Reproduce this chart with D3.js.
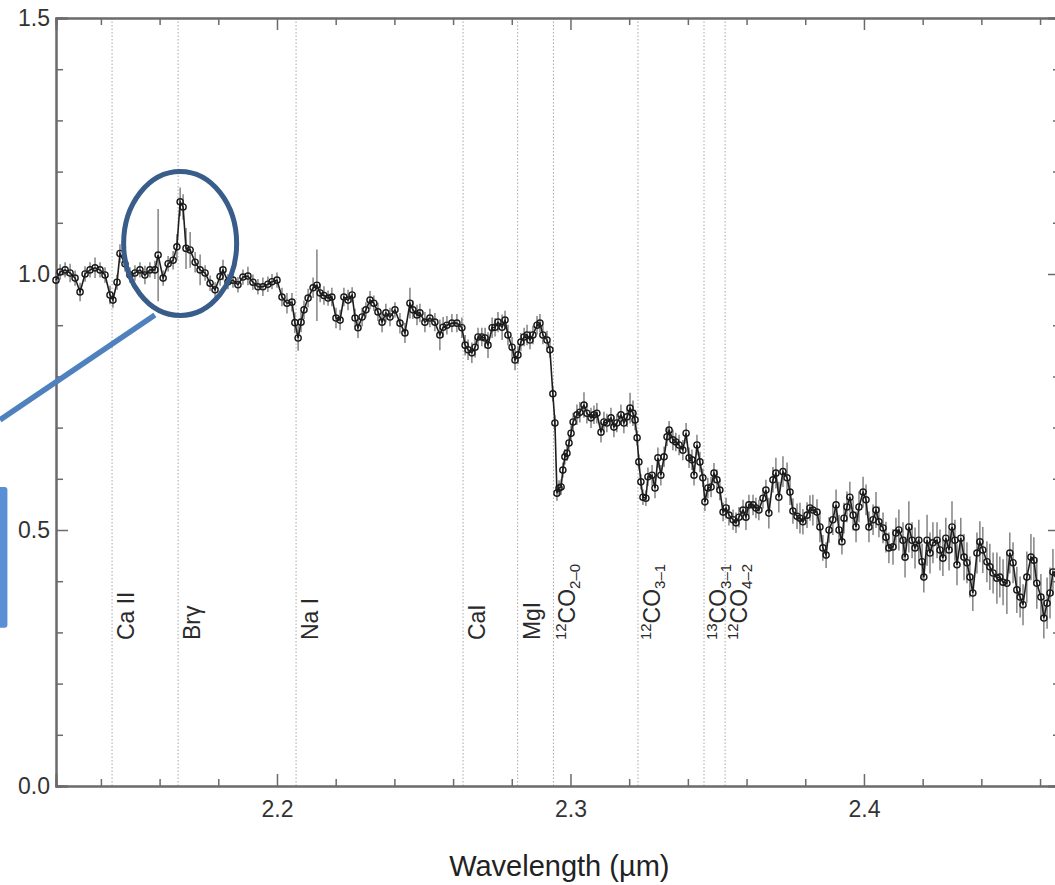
<!DOCTYPE html>
<html><head><meta charset="utf-8">
<script src="https://cdn.jsdelivr.net/npm/d3@7/dist/d3.min.js"></script>
<style>
html,body{margin:0;padding:0;background:#fff;overflow:hidden}
text{font-family:"Liberation Sans",Arial,Helvetica,sans-serif}
</style></head>
<body><svg id="chart" width="1055" height="885"></svg>
<script>
// ---- data ----
const wavelength = [2.1247,2.1261,2.1278,2.1295,2.1312,2.1329,2.1346,2.1363,2.1380,2.1397,2.1414,2.1431,2.1441,2.1455,2.1465,2.1482,2.1499,2.1516,2.1533,2.1550,2.1567,2.1584,2.1595,2.1612,2.1629,2.1646,2.1659,2.1670,2.1680,2.1690,2.1704,2.1721,2.1738,2.1755,2.1772,2.1789,2.1806,2.1816,2.1833,2.1850,2.1867,2.1884,2.1901,2.1918,2.1935,2.1952,2.1969,2.1983,2.2000,2.2017,2.2034,2.2051,2.2061,2.2072,2.2082,2.2092,2.2106,2.2123,2.2136,2.2147,2.2160,2.2174,2.2187,2.2201,2.2215,2.2228,2.2242,2.2256,2.2266,2.2276,2.2290,2.2303,2.2317,2.2330,2.2344,2.2358,2.2371,2.2385,2.2402,2.2419,2.2436,2.2453,2.2463,2.2477,2.2487,2.2504,2.2521,2.2538,2.2555,2.2566,2.2579,2.2596,2.2613,2.2630,2.2641,2.2651,2.2664,2.2675,2.2685,2.2698,2.2709,2.2719,2.2733,2.2743,2.2753,2.2767,2.2777,2.2787,2.2801,2.2811,2.2821,2.2831,2.2842,2.2852,2.2862,2.2872,2.2886,2.2896,2.2906,2.2920,2.2930,2.2940,2.2947,2.2954,2.2961,2.2968,2.2974,2.2981,2.2988,2.2995,2.3002,2.3009,2.3022,2.3032,2.3046,2.3056,2.3070,2.3080,2.3090,2.3104,2.3114,2.3124,2.3138,2.3148,2.3158,2.3172,2.3182,2.3193,2.3203,2.3213,2.3220,2.3227,2.3233,2.3240,2.3247,2.3257,2.3264,2.3278,2.3288,2.3298,2.3308,2.3319,2.3329,2.3336,2.3349,2.3359,2.3370,2.3383,2.3394,2.3404,2.3414,2.3421,2.3431,2.3441,2.3451,2.3458,2.3468,2.3479,2.3489,2.3499,2.3509,2.3520,2.3530,2.3540,2.3554,2.3564,2.3574,2.3588,2.3598,2.3608,2.3622,2.3632,2.3642,2.3656,2.3666,2.3676,2.3690,2.3700,2.3710,2.3724,2.3738,2.3748,2.3758,2.3772,2.3782,2.3792,2.3806,2.3816,2.3826,2.3840,2.3850,2.3860,2.3871,2.3881,2.3894,2.3905,2.3915,2.3925,2.3932,2.3942,2.3952,2.3963,2.3973,2.3983,2.3997,2.4007,2.4017,2.4031,2.4041,2.4051,2.4065,2.4075,2.4085,2.4099,2.4109,2.4119,2.4133,2.4140,2.4153,2.4164,2.4174,2.4187,2.4198,2.4204,2.4215,2.4225,2.4235,2.4249,2.4259,2.4269,2.4279,2.4290,2.4300,2.4310,2.4317,2.4330,2.4341,2.4351,2.4361,2.4371,2.4385,2.4395,2.4405,2.4419,2.4429,2.4440,2.4453,2.4463,2.4474,2.4487,2.4497,2.4508,2.4521,2.4532,2.4542,2.4555,2.4569,2.4579,2.4589,2.4603,2.4613,2.4624,2.4634,2.4644,2.4658];
const flux = [0.988,1.004,1.008,1.002,0.992,0.965,1.000,1.008,1.012,1.008,0.998,0.959,0.949,0.984,1.040,1.020,0.998,1.002,1.008,0.998,1.008,1.008,1.037,0.992,1.020,1.027,1.053,1.141,1.131,1.050,1.047,1.023,1.008,1.002,0.982,0.969,0.995,1.008,0.985,0.988,0.979,0.994,0.996,0.984,0.975,0.975,0.980,0.985,0.988,0.955,0.943,0.945,0.905,0.875,0.906,0.930,0.953,0.973,0.978,0.963,0.958,0.953,0.955,0.914,0.910,0.955,0.949,0.959,0.914,0.895,0.916,0.930,0.949,0.943,0.926,0.906,0.924,0.916,0.930,0.904,0.885,0.943,0.930,0.920,0.924,0.906,0.914,0.906,0.881,0.896,0.900,0.904,0.904,0.895,0.861,0.852,0.846,0.857,0.877,0.877,0.875,0.861,0.895,0.896,0.906,0.896,0.910,0.881,0.857,0.832,0.842,0.867,0.877,0.881,0.871,0.881,0.900,0.904,0.881,0.871,0.852,0.766,0.709,0.572,0.582,0.584,0.617,0.643,0.650,0.670,0.689,0.711,0.725,0.730,0.744,0.728,0.719,0.725,0.728,0.691,0.711,0.709,0.719,0.701,0.709,0.725,0.709,0.721,0.738,0.728,0.715,0.680,0.633,0.594,0.564,0.562,0.604,0.607,0.582,0.641,0.607,0.643,0.682,0.695,0.676,0.672,0.666,0.656,0.689,0.641,0.637,0.607,0.666,0.633,0.602,0.555,0.582,0.584,0.611,0.598,0.578,0.535,0.543,0.529,0.520,0.514,0.525,0.539,0.525,0.549,0.549,0.543,0.539,0.562,0.578,0.533,0.598,0.611,0.564,0.614,0.602,0.574,0.537,0.527,0.523,0.516,0.529,0.543,0.539,0.535,0.506,0.465,0.451,0.500,0.520,0.549,0.500,0.477,0.523,0.545,0.564,0.529,0.506,0.545,0.574,0.559,0.506,0.520,0.539,0.516,0.504,0.486,0.465,0.467,0.494,0.500,0.480,0.447,0.506,0.480,0.465,0.480,0.438,0.408,0.480,0.455,0.475,0.480,0.461,0.445,0.484,0.461,0.506,0.480,0.432,0.484,0.447,0.436,0.408,0.377,0.455,0.477,0.461,0.438,0.428,0.416,0.406,0.408,0.398,0.396,0.455,0.436,0.383,0.369,0.354,0.408,0.447,0.441,0.396,0.369,0.328,0.357,0.377,0.418,0.414];
const fluxErr = [0.015,0.015,0.015,0.018,0.015,0.018,0.015,0.015,0.02,0.015,0.015,0.018,0.015,0.015,0.018,0.015,0.015,0.015,0.015,0.018,0.015,0.018,0.09,0.015,0.015,0.018,0.025,0.028,0.025,0.04,0.035,0.02,0.03,0.015,0.015,0.015,0.018,0.02,0.015,0.015,0.015,0.015,0.018,0.015,0.015,0.018,0.015,0.015,0.015,0.018,0.02,0.018,0.02,0.025,0.02,0.018,0.018,0.02,0.07,0.018,0.018,0.015,0.018,0.02,0.02,0.018,0.02,0.015,0.018,0.02,0.018,0.015,0.018,0.015,0.018,0.02,0.018,0.018,0.015,0.02,0.02,0.03,0.018,0.02,0.018,0.02,0.018,0.018,0.03,0.02,0.018,0.018,0.018,0.02,0.02,0.02,0.02,0.02,0.018,0.018,0.02,0.025,0.02,0.018,0.02,0.025,0.018,0.02,0.02,0.02,0.018,0.018,0.018,0.02,0.018,0.018,0.018,0.018,0.018,0.018,0.015,0.015,0.015,0.015,0.015,0.015,0.015,0.015,0.015,0.015,0.015,0.018,0.02,0.02,0.025,0.02,0.02,0.018,0.02,0.02,0.02,0.018,0.02,0.02,0.018,0.02,0.02,0.02,0.03,0.025,0.02,0.015,0.015,0.015,0.015,0.015,0.018,0.02,0.02,0.02,0.02,0.02,0.018,0.018,0.02,0.018,0.02,0.02,0.02,0.02,0.02,0.02,0.02,0.02,0.018,0.018,0.02,0.02,0.02,0.02,0.02,0.018,0.02,0.02,0.02,0.02,0.02,0.02,0.025,0.02,0.02,0.02,0.02,0.02,0.02,0.03,0.025,0.03,0.03,0.03,0.03,0.025,0.025,0.025,0.03,0.025,0.025,0.025,0.03,0.025,0.03,0.025,0.025,0.025,0.03,0.03,0.03,0.025,0.03,0.03,0.03,0.03,0.03,0.03,0.03,0.03,0.03,0.03,0.035,0.03,0.03,0.03,0.03,0.035,0.03,0.04,0.035,0.04,0.05,0.035,0.04,0.04,0.035,0.03,0.05,0.04,0.04,0.035,0.04,0.035,0.04,0.04,0.05,0.04,0.04,0.04,0.045,0.04,0.04,0.035,0.04,0.04,0.045,0.04,0.045,0.04,0.05,0.04,0.045,0.06,0.04,0.04,0.045,0.04,0.04,0.05,0.045,0.045,0.05,0.045,0.04,0.05,0.05,0.045,0.04];

const lineWave  = [2.1438, 2.1663, 2.2065, 2.2634, 2.2820, 2.2942, 2.3230, 2.3455, 2.3527];
const lineSup   = ["", "", "", "", "", "12", "12", "13", "12"];
const lineName  = ["Ca II", "Br\u03b3", "Na I", "CaI", "MgI", "CO", "CO", "CO", "CO"];
const lineSub   = ["", "", "", "", "", "2\u20130", "3\u20131", "3\u20131", "4\u20132"];

const xMajorTicks = [2.2, 2.3, 2.4];
const xMinorTicks = [2.14,2.16,2.18,2.22,2.24,2.26,2.28,2.32,2.34,2.36,2.38,2.42,2.44,2.46];
const yMajorTicks = [0.0, 0.5, 1.0, 1.5];
const yMinorTicks = [0.1,0.2,0.3,0.4,0.6,0.7,0.8,0.9,1.1,1.2,1.3,1.4];
const xTitle = "Wavelength (\u00b5m)";

// ---- scales ----
const svg = d3.select("#chart");
const x = d3.scaleLinear().domain([2.1247, 2.4668]).range([56, 1060]);
const y = d3.scaleLinear().domain([0, 1.5]).range([786, 18]);
const axisColor = "#6b6b6b";
const fmt = d3.format(".1f");

// dotted line markers
svg.append("g").selectAll("line").data(lineWave).join("line")
  .attr("x1", d => x(d)).attr("x2", d => x(d))
  .attr("y1", y(1.5)).attr("y2", y(0))
  .attr("stroke", "#a8a8a8").attr("stroke-width", 1).attr("stroke-dasharray", "1.5,2");

// line labels
const lab = svg.append("g").selectAll("text").data(lineWave).join("text")
  .attr("transform", d => `translate(${x(d) + 22},${y(0.285)}) rotate(-90)`)
  .attr("font-size", 23).attr("fill", "#2a2a2a");
lab.each(function(d, i) {
  const t = d3.select(this);
  if (lineSup[i]) t.append("tspan").attr("font-size", 15).attr("dy", -9).text(lineSup[i]);
  t.append("tspan").attr("dy", lineSup[i] ? 9 : 0).text(lineName[i]);
  if (lineSub[i]) t.append("tspan").attr("font-size", 15).attr("dy", 5).text(lineSub[i]);
});

// axes
function styleAxis(g) {
  g.select(".domain").attr("stroke", axisColor).attr("stroke-width", 2);
  g.selectAll(".tick line").attr("stroke", axisColor).attr("stroke-width", 1.5);
  g.selectAll(".tick text").attr("fill", "#333").attr("font-size", 23)
    .attr("font-family", '"Liberation Sans",Arial,sans-serif');
}
svg.append("g").attr("transform", `translate(0,${y(0)})`)
  .call(d3.axisBottom(x).tickValues(xMajorTicks).tickSize(-12).tickPadding(15).tickFormat(fmt)).call(styleAxis);
svg.append("g").attr("transform", `translate(0,${y(0)})`)
  .call(d3.axisBottom(x).tickValues(xMinorTicks).tickSize(-7).tickFormat("")).call(styleAxis);
svg.append("g").attr("transform", `translate(0,${y(1.5)})`)
  .call(d3.axisTop(x).tickValues(xMajorTicks).tickSize(-12).tickFormat("")).call(styleAxis);
svg.append("g").attr("transform", `translate(0,${y(1.5)})`)
  .call(d3.axisTop(x).tickValues(xMinorTicks).tickSize(-7).tickFormat("")).call(styleAxis);
svg.append("g").attr("transform", `translate(${x.range()[0]},0)`)
  .call(d3.axisLeft(y).tickValues(yMajorTicks).tickSize(-12).tickPadding(6).tickFormat(fmt)).call(styleAxis);
svg.append("g").attr("transform", `translate(${x.range()[0]},0)`)
  .call(d3.axisLeft(y).tickValues(yMinorTicks).tickSize(-7).tickFormat("")).call(styleAxis);
svg.append("g").attr("transform", `translate(${x.range()[1]},0)`)
  .call(d3.axisRight(y).tickValues(yMajorTicks).tickSize(-12).tickFormat("")).call(styleAxis);
svg.append("g").attr("transform", `translate(${x.range()[1]},0)`)
  .call(d3.axisRight(y).tickValues(yMinorTicks).tickSize(-7).tickFormat("")).call(styleAxis);

svg.append("text").attr("x", x(2.2962)).attr("y", 876).attr("text-anchor", "middle")
  .attr("font-size", 29).attr("fill", "#222").text(xTitle);

// spectrum
const pts = wavelength.map((w, i) => ({w, f: flux[i], e: fluxErr[i]}));
svg.append("g").selectAll("line").data(pts).join("line")
  .attr("x1", d => x(d.w)).attr("x2", d => x(d.w))
  .attr("y1", d => y(d.f - d.e)).attr("y2", d => y(d.f + d.e))
  .attr("stroke", "#7a7a7a").attr("stroke-width", 1.4);
svg.append("path").datum(pts)
  .attr("d", d3.line().x(d => x(d.w)).y(d => y(d.f)))
  .attr("fill", "none").attr("stroke", "#1e1e1e").attr("stroke-width", 1.6);
svg.append("g").selectAll("circle").data(pts).join("circle")
  .attr("cx", d => x(d.w)).attr("cy", d => y(d.f)).attr("r", 3.1)
  .attr("fill", "none").attr("stroke", "#1a1a1a").attr("stroke-width", 1.4);

// callout annotation (highlighting the Br-gamma line)
const ann = svg.append("g");
ann.append("rect").attr("x", x(2.0990)).attr("y", y(0.584))
  .attr("width", x(2.10815) - x(2.0990)).attr("height", y(0.309) - y(0.584))
  .attr("rx", 3).attr("fill", "#5b8fd5");
ann.append("line").attr("x1", x(2.1056)).attr("y1", y(0.715)).attr("x2", x(2.1584)).attr("y2", y(0.920))
  .attr("stroke", "#4f81bd").attr("stroke-width", 5.5);
ann.append("ellipse").attr("cx", x(2.1670)).attr("cy", y(1.0596))
  .attr("rx", x(2.1670 + 0.01925) - x(2.1670)).attr("ry", y(1.0596 - 0.1406) - y(1.0596))
  .attr("fill", "none").attr("stroke", "#385d8a").attr("stroke-width", 5);
</script></body></html>
